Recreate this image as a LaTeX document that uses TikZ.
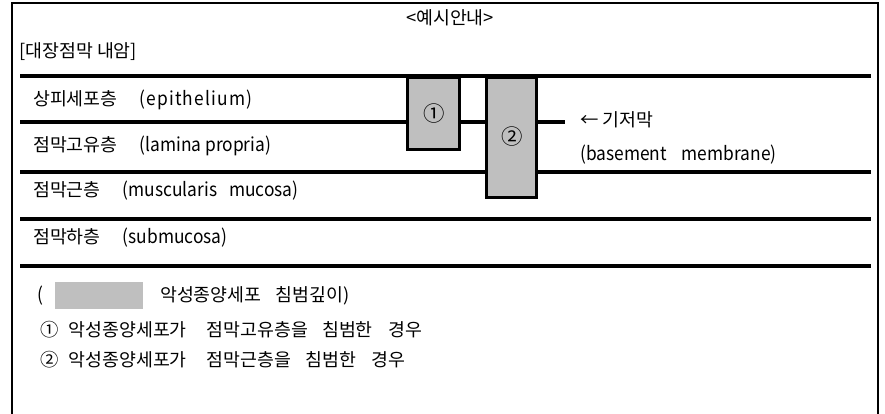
\documentclass[tikz,border=0pt]{standalone}
\usepackage{fontspec}
\setmainfont[FakeStretch=1.02]{Noto Sans CJK KR}
\newfontfamily\latfont[FakeStretch=0.914]{Noto Sans CJK KR}
\newcommand\lat[1]{{\latfont\fontsize{19}{23}\selectfont #1}}
\newcommand\gap{\hspace{22pt}}
\usepackage{tikz}
\usetikzlibrary{positioning}

\begin{document}
\begin{tikzpicture}[x=1pt,y=-1pt]
\tikzstyle{every node}+=[inner sep=0pt,anchor=west,font=\fontsize{18}{21}\selectfont]
\tikzstyle{layer}=[black,line width=4pt]
\tikzstyle{depthbox}=[draw=black,fill=gray!50,line width=3pt]
\tikzstyle{boxnum}=[anchor=center,font=\fontsize{21}{24}\selectfont]
\useasboundingbox (0,0) rectangle (885,413);
% frame
\draw [black,line width=2pt] (12,420) -- (12,3) -- (878,3) -- (878,420);
% layer lines
\draw [layer] (20,76) -- (871,76);
\draw [layer] (20,122) -- (407,122);
\draw [layer] (459,122) -- (486,122);
\draw [layer] (536,122) -- (565,122);
\draw [layer] (20,172) -- (871,172);
\draw [layer] (20,219) -- (871,219);
\draw [layer] (20,266) -- (871,266);
% invasion depth boxes
\draw [depthbox] (407,77) rectangle (459,149);
\draw [depthbox] (486,77) rectangle (536,197);
\node (one) at (434,114) [boxnum] {①};
\node (two) at (512,137) [boxnum] {②};
% texts
\node (title) at (450,18) [anchor=center] {<예시안내>};
\node (head) at (19,52) {[대장점막 내암]};
\node (epi) at (33,100) {상피세포층\gap\lat{\addfontfeature{LetterSpace=6}(epithelium)}};
\node (lam) at (33,146) {점막고유층\gap\lat{(lamina propria)}};
\node (mus) at (33,191) {점막근층\gap\lat{(muscularis\hspace{12pt}mucosa)}};
\node (sub) at (33,238) {점막하층\gap\lat{(submucosa)}};
\node (bm) at (580,120) {← 기저막};
\node (bmen) at (580,155) {\lat{(basement\hspace{15pt}membrane)}};
% legend
\node (lpar) at (37,296) {\lat{(}};
\fill [gray!50] (55,282) rectangle (143,309);
\node (leg) at (160,296) {악성종양세포\hspace{14pt}침범깊이)};
\node (legone) at (40,330) {①\hspace{10pt}악성종양세포가\hspace{20pt}점막고유층을\hspace{14pt}침범한\hspace{16pt}경우};
\node (legtwo) at (40,360) {②\hspace{10pt}악성종양세포가\hspace{20pt}점막근층을\hspace{14pt}침범한\hspace{16pt}경우};
\end{tikzpicture}
\end{document}
